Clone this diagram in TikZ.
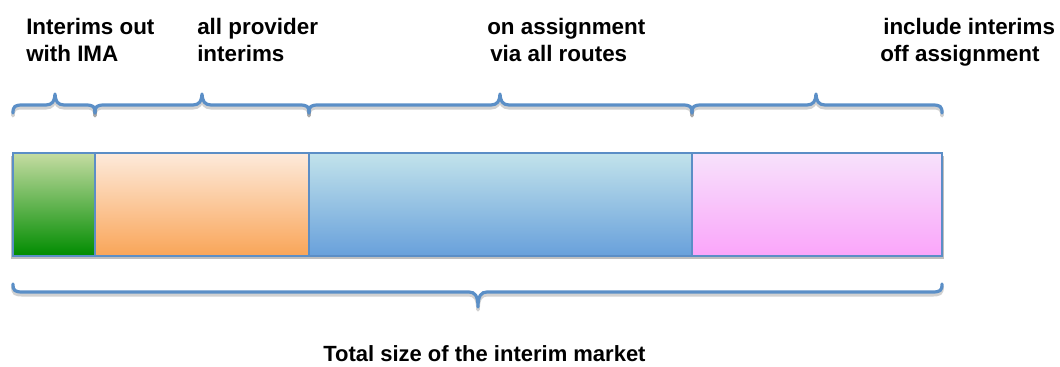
\documentclass[tikz,border=0pt]{standalone}
\usepackage{fontspec}
\setmainfont{Liberation Sans}
\definecolor{bracecol}{HTML}{5B8FC7}
\definecolor{edgecol}{HTML}{5B8EC6}
\definecolor{gtop}{HTML}{C5DCA2}
\definecolor{gbot}{HTML}{008C00}
\definecolor{otop}{HTML}{FDEADB}
\definecolor{obot}{HTML}{F9A558}
\definecolor{btop}{HTML}{C2E3EB}
\definecolor{bbot}{HTML}{68A0DB}
\definecolor{ptop}{HTML}{F7E2FB}
\definecolor{pbot}{HTML}{FAA5FA}
\newcommand\mytopbrace[4]{% name, x1, tip, x2
  \foreach \sty in {braceshadow,bracestyle}{
  \draw[\sty] (#2,113) .. controls (#2,106) and (#2+2,105) .. (#2+10,105) -- (#3-9,105)
    .. controls (#3-3,105) and (#3,101) .. (#3,94)
    .. controls (#3,101) and (#3+3,105) .. (#3+9,105) -- (#4-10,105)
    .. controls (#4-2,105) and (#4,106) .. (#4,113);}
  \coordinate (#1) at (#3,94);
}
\tikzset{
  bracestyle/.style={draw=bracecol, line width=2.4pt, line cap=round, line join=round},
  braceshadow/.style={draw=black, opacity=0.18, line width=2.8pt, line cap=round, line join=round, transform canvas={yshift=-2pt}},
  barbox/.style={draw=edgecol, line width=1.1pt},
  lbl/.style={anchor=base west, inner sep=0pt, font=\bfseries\fontsize{16.8}{20}\selectfont}
}
\begin{document}
\begin{tikzpicture}[x=0.75pt,y=-0.75pt]
\useasboundingbox (0,0) rectangle (1060,367);
% labels
\node[lbl] (l1a) at (26,35) {Interims out};
\node[lbl] (l1b) at (26,62) {with IMA};
\node[lbl] (l2a) at (197,35) {all provider};
\node[lbl] (l2b) at (197,62) {interims};
\node[lbl] (l3a) at (487,35) {on assignment};
\node[lbl] (l3b) at (490,62) {via all routes};
\node[lbl] (l4a) at (883,35) {include interims};
\node[lbl] (l4b) at (880,62) {off assignment};
\node[lbl, font=\bfseries\fontsize{16.5}{20}\selectfont] (tot) at (323,361) {Total size of the interim market};
% top braces
\mytopbrace{b1}{13}{55}{95}
\mytopbrace{b2}{95}{202}{309}
\mytopbrace{b3}{309}{500}{692}
\mytopbrace{b4}{692}{816}{942}
% bar shadow
\fill[black, opacity=0.25] (11,156) rectangle (944,259);
% boxes
\shade[top color=gtop, bottom color=gbot] (13,153) rectangle (95,256);
\shade[top color=otop, bottom color=obot] (95,153) rectangle (309,256);
\shade[top color=btop, bottom color=bbot] (309,153) rectangle (692,256);
\shade[top color=ptop, bottom color=pbot] (692,153) rectangle (942,256);
\draw[barbox] (13,153) rectangle (95,256);
\draw[barbox] (95,153) rectangle (309,256);
\draw[barbox] (309,153) rectangle (692,256);
\draw[barbox] (692,153) rectangle (942,256);
% bottom brace
\foreach \sty in {braceshadow,bracestyle}{
\draw[\sty] (13,284) .. controls (13,291) and (15,292) .. (23,292) -- (469,292)
  .. controls (475,292) and (478,296) .. (478,307)
  .. controls (478,296) and (481,292) .. (487,292) -- (932,292)
  .. controls (940,292) and (942,291) .. (942,284);}
\coordinate (bt) at (478,307);
\end{tikzpicture}
\end{document}
